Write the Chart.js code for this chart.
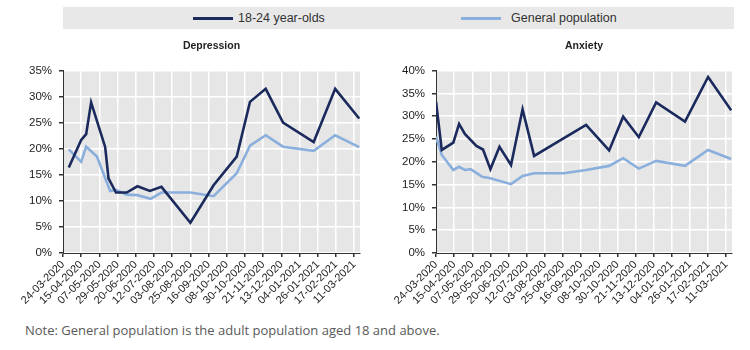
<!DOCTYPE html>
<html>
<head>
<meta charset="utf-8">
<script src="https://cdn.jsdelivr.net/npm/chart.js@4.4.1/dist/chart.umd.min.js"></script>
<style>
  body { margin: 0; background: #fff; width: 750px; height: 350px; overflow: hidden; position: relative;
         font-family: 'Liberation Sans Narrow', 'Liberation Sans', Arial, sans-serif; }
  canvas { position: absolute; top: 30px; }
  #legend { position: absolute; left: 63px; top: 7px; width: 671px; height: 22px; background: #e8e8e8; }
  .swatch { position: absolute; top: 10px; width: 40px; height: 3px; }
  .lbl { position: absolute; top: 3px; font-size: 12.5px; line-height: 16px; color: #333; }
  #note { position: absolute; left: 25px; top: 321px; font-family: 'Open Sans', sans-serif; font-size: 13px; color: #595959; }
</style>
</head>
<body>
<div id="legend">
  <div class="swatch" style="left:130px; background:#1b2a5c"></div>
  <div class="lbl" style="left:175px">18-24 year-olds</div>
  <div class="swatch" style="left:398px; background:#8aafdc"></div>
  <div class="lbl" style="left:448px">General population</div>
</div>
<canvas id="depChart" width="375" height="280" style="left:0"></canvas>
<canvas id="anxChart" width="375" height="280" style="left:375px"></canvas>
<div id="note">Note: General population is the adult population aged 18 and above.</div>

<script>
// tick labels on the date axis (day 0 = 24-03-2020)
const tickLabels = ['24-03-2020', '15-04-2020', '07-05-2020', '29-05-2020', '20-06-2020', '12-07-2020',
  '03-08-2020', '25-08-2020', '16-09-2020', '08-10-2020', '30-10-2020', '21-11-2020', '13-12-2020',
  '04-01-2021', '26-01-2021', '17-02-2021', '11-03-2021'];

// Depression, days since 24-03-2020 and share in %
const depYouthDays = [7, 22, 28, 34, 51, 55, 64, 77, 90, 105, 119, 154, 182, 210, 226, 245, 266, 303, 329, 358];
const depYouth     = [16.4, 21.7, 22.8, 28.9, 20.3, 14.3, 11.6, 11.6, 12.8, 11.9, 12.7, 5.8, 13.0, 18.5, 29.0, 31.5, 25.0, 21.3, 31.5, 25.8];
const depGenDays   = [7, 22, 28, 41, 57, 64, 77, 90, 106, 119, 154, 182, 210, 226, 245, 266, 303, 329, 358];
const depGen       = [19.9, 17.5, 20.4, 18.5, 11.9, 12.1, 11.2, 11.1, 10.4, 11.6, 11.6, 10.9, 15.3, 20.6, 22.6, 20.4, 19.6, 22.6, 20.3];

// Anxiety
const anxYouthDays = [0, 7, 21, 28, 35, 49, 57, 66, 77, 91, 105, 119, 182, 210, 227, 246, 267, 302, 330, 358];
const anxYouth     = [33.2, 22.6, 24.2, 28.3, 26.1, 23.5, 22.7, 18.4, 23.3, 19.3, 31.5, 21.3, 28.1, 22.5, 29.9, 25.4, 33.0, 28.8, 38.6, 31.3];
const anxGenDays   = [0, 7, 21, 28, 35, 42, 56, 66, 91, 105, 119, 155, 182, 210, 227, 246, 267, 302, 330, 358];
const anxGen       = [25.5, 21.5, 18.2, 18.9, 18.2, 18.4, 16.7, 16.4, 15.1, 16.9, 17.5, 17.5, 18.2, 19.1, 20.8, 18.5, 20.2, 19.1, 22.6, 20.6];

const DARK = '#1b2a5c';
const LIGHT = '#8aafdc';
const NARROW = "'Liberation Sans Narrow', 'Liberation Sans', Arial, sans-serif";

function dayOf(s) {
    const [d, m, y] = s.split('-').map(Number);
    return (Date.UTC(y, m - 1, d) - Date.UTC(2020, 2, 24)) / 86400000;
}
const tickDays = tickLabels.map(dayOf);

// grey plot background
const plotBg = {
    id: 'plotBg',
    beforeDraw(chart) {
        const { ctx, chartArea: a } = chart;
        ctx.save();
        ctx.fillStyle = '#e6e6e6';
        ctx.fillRect(a.left, a.top, a.width, a.height);
        ctx.restore();
    }
};

function toPoints(days, vals) {
    return days.map((x, i) => ({ x: x, y: vals[i] }));
}

function makeChart(id, title, yMax, axisWidth, padRight, youthDays, youth, genDays, gen) {
    return new Chart(document.getElementById(id), {
        type: 'line',
        data: {
            datasets: [
                { label: '18-24 year-olds', data: toPoints(youthDays, youth), borderColor: DARK,
                  borderWidth: 2.6, pointRadius: 0, tension: 0 },
                { label: 'General population', data: toPoints(genDays, gen), borderColor: LIGHT,
                  borderWidth: 2.6, pointRadius: 0, tension: 0 }
            ]
        },
        options: {
            responsive: false,
            animation: false,
            layout: { padding: { left: 0, right: padRight, top: 0, bottom: 0 } },
            plugins: {
                legend: { display: false },
                tooltip: { enabled: false },
                title: {
                    display: true,
                    text: title,
                    fullSize: false,
                    color: '#222',
                    font: { family: "'Liberation Sans', Arial, sans-serif", size: 10.5, weight: 'bold' },
                    padding: { top: 10, bottom: 18 }
                }
            },
            scales: {
                x: {
                    type: 'linear',
                    min: 0,
                    max: 359,
                    afterBuildTicks: s => { s.ticks = tickDays.map(v => ({ value: v })); },
                    afterFit: s => { s.height = 57; },
                    ticks: {
                        autoSkip: false,
                        minRotation: 45,
                        maxRotation: 45,
                        padding: 1,
                        color: '#222',
                        font: { family: NARROW, size: 11 },
                        callback: (v, i) => tickLabels[i]
                    },
                    grid: { color: '#fff', lineWidth: 1.5, tickLength: 4, tickColor: '#333' },
                    border: { color: '#333', width: 1 }
                },
                y: {
                    min: 0,
                    max: yMax,
                    afterFit: s => { s.width = axisWidth; },
                    ticks: {
                        stepSize: 5,
                        padding: 7,
                        color: '#222',
                        font: { family: NARROW, size: 11.5 },
                        callback: v => v + '%'
                    },
                    grid: { color: '#fff', lineWidth: 1.5, tickLength: 4, tickColor: '#333' },
                    border: { color: '#333', width: 1 }
                }
            }
        },
        plugins: [plotBg]
    });
}

makeChart('depChart', 'Depression', 35, 63, 15, depYouthDays, depYouth, depGenDays, depGen);
makeChart('anxChart', 'Anxiety', 40, 61, 18, anxYouthDays, anxYouth, anxGenDays, anxGen);
</script>
</body>
</html>
